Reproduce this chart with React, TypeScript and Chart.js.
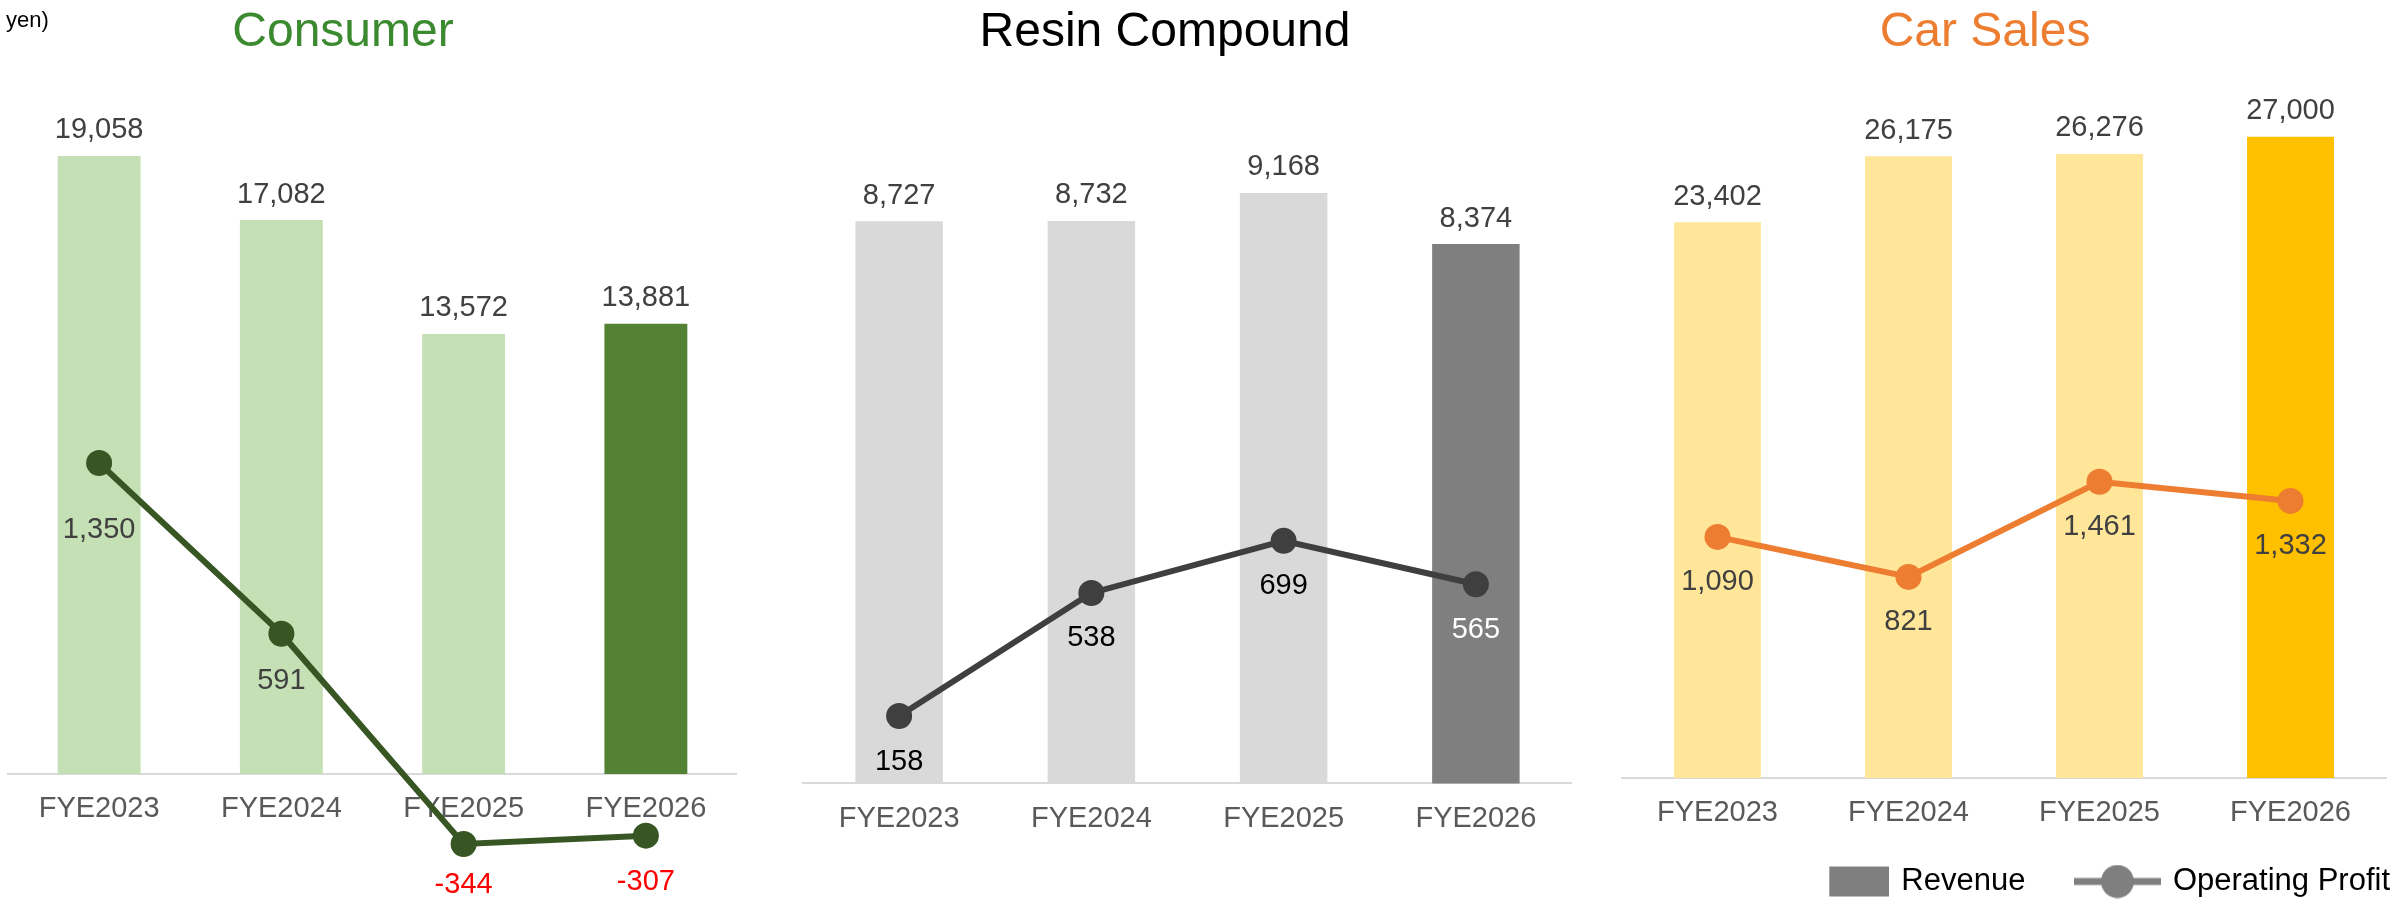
import React, { useEffect, useRef } from 'react';
import { Chart, registerables } from 'chart.js';

Chart.register(...registerables);

// ---------------- data ----------------
const categories = ['FYE2023', 'FYE2024', 'FYE2025', 'FYE2026'];

const consumerRevenue = [19058, 17082, 13572, 13881];
const consumerProfit = [1350, 591, -344, -307];

const resinRevenue = [8727, 8732, 9168, 8374];
const resinProfit = [158, 538, 699, 565];

const carRevenue = [23402, 26175, 26276, 27000];
const carProfit = [1090, 821, 1461, 1332];

const legendLabels = ['Revenue', 'Operating Profit'];
const unitText = 'yen)';

// ---------------- styles ----------------
const FONT = '"Liberation Sans", Arial, Helvetica, sans-serif';

type PanelCfg = {
  title: string;
  titleColor: string;
  revenue: number[];
  profit: number[];
  barColors: string[];
  lineColor: string;
  profitLabelColors: string[];
  profitLabelDy: number[];
  left: number;
  width: number;
  height: number;
  leftGutter: number;
  rightGutter: number;
  yMin: number;
  yMax: number;
  y2Min: number;
  y2Max: number;
  legend: boolean;
};

const panels: PanelCfg[] = [
  {
    title: 'Consumer',
    titleColor: '#3B8A2F',
    revenue: consumerRevenue,
    profit: consumerProfit,
    barColors: ['#C5E0B4', '#C5E0B4', '#C5E0B4', '#548235'],
    lineColor: '#375623',
    profitLabelColors: consumerProfit.map((v) => (v < 0 ? '#FF0000' : '#404040')),
    profitLabelDy: [75, 55, 49, 54],
    left: -51,
    width: 788,
    height: 899,
    leftGutter: 59,
    rightGutter: 0,
    yMin: -3854.7,
    yMax: 21968.7,
    y2Min: -588.7,
    y2Max: 3134.7,
    legend: false,
  },
  {
    title: 'Resin Compound',
    titleColor: '#000000',
    revenue: resinRevenue,
    profit: resinProfit,
    barColors: ['#D9D9D9', '#D9D9D9', '#D9D9D9', '#7F7F7F'],
    lineColor: '#3F3F3F',
    profitLabelColors: ['#000000', '#000000', '#000000', '#FFFFFF'],
    profitLabelDy: [54, 53, 53, 54],
    left: 758,
    width: 814,
    height: 899,
    leftGutter: 45,
    rightGutter: 0,
    yMin: -1792.9,
    yMax: 11206,
    y2Min: -407.5,
    y2Max: 2179.5,
    legend: false,
  },
  {
    title: 'Car Sales',
    titleColor: '#ED7D31',
    revenue: carRevenue,
    profit: carProfit,
    barColors: ['#FFE699', '#FFE699', '#FFE699', '#FFC000'],
    lineColor: '#ED7D31',
    profitLabelColors: ['#404040', '#404040', '#404040', '#404040'],
    profitLabelDy: [53, 53, 53, 53],
    left: 1528,
    width: 914,
    height: 907,
    leftGutter: 94,
    rightGutter: 56,
    yMin: -1515.8,
    yMax: 30164,
    y2Min: -773.4,
    y2Max: 4286.5,
    legend: true,
  },
];

const fmt = (v: number) => v.toLocaleString('en-US');

function makeIcon(kind: 'bar' | 'line'): HTMLCanvasElement {
  const c = document.createElement('canvas');
  c.width = 87;
  c.height = 34;
  const g = c.getContext('2d')!;
  g.fillStyle = '#7F7F7F';
  g.strokeStyle = '#7F7F7F';
  if (kind === 'bar') {
    g.fillRect(27, 2, 60, 30);
  } else {
    g.lineWidth = 7;
    g.beginPath();
    g.moveTo(0, 17);
    g.lineTo(87, 17);
    g.stroke();
    g.beginPath();
    g.arc(43.5, 17, 16.5, 0, Math.PI * 2);
    g.fill();
  }
  return c;
}

function buildChart(canvas: HTMLCanvasElement, p: PanelCfg) {
  const labelPlugin = {
    id: 'valueLabels',
    afterDatasetsDraw(chart: any) {
      const ctx = chart.ctx as CanvasRenderingContext2D;
      ctx.save();
      ctx.font = `29px ${FONT}`;
      ctx.textAlign = 'center';
      ctx.textBaseline = 'alphabetic';
      const barMeta = chart.getDatasetMeta(0);
      barMeta.data.forEach((el: any, i: number) => {
        ctx.fillStyle = '#404040';
        ctx.fillText(fmt(p.revenue[i]), el.x, el.y - 17.5);
      });
      const lineMeta = chart.getDatasetMeta(1);
      lineMeta.data.forEach((el: any, i: number) => {
        ctx.fillStyle = p.profitLabelColors[i];
        ctx.fillText(fmt(p.profit[i]), el.x, el.y + p.profitLabelDy[i]);
      });
      ctx.restore();
    },
  };

  const legendOpts = p.legend
    ? {
        display: true,
        position: 'bottom' as const,
        align: 'end' as const,
        labels: {
          usePointStyle: true,
          pointStyleWidth: 80,
          boxHeight: 31,
          padding: 52,
          color: '#000000',
          font: { family: FONT, size: 31 },
          generateLabels: () => [
            {
              text: legendLabels[0],
              pointStyle: makeIcon('bar'),
              fillStyle: '#7F7F7F',
              strokeStyle: '#7F7F7F',
              lineWidth: 0,
              hidden: false,
              datasetIndex: 0,
              fontColor: '#000000',
            },
            {
              text: legendLabels[1],
              pointStyle: makeIcon('line'),
              fillStyle: '#7F7F7F',
              strokeStyle: '#7F7F7F',
              lineWidth: 0,
              hidden: false,
              datasetIndex: 1,
              fontColor: '#000000',
            },
          ],
        },
      }
    : { display: false };

  return new Chart(canvas, {
    type: 'bar',
    data: {
      labels: categories,
      datasets: [
        {
          type: 'bar',
          label: legendLabels[0],
          data: p.revenue,
          backgroundColor: p.barColors,
          borderWidth: 0,
          yAxisID: 'y',
          order: 2,
          barPercentage: 0.455,
          categoryPercentage: 1,
        },
        {
          type: 'line',
          label: legendLabels[1],
          data: p.profit,
          borderColor: p.lineColor,
          backgroundColor: p.lineColor,
          borderWidth: 6,
          pointRadius: 13,
          pointHoverRadius: 13,
          pointBackgroundColor: p.lineColor,
          pointBorderWidth: 0,
          yAxisID: 'y2',
          order: 1,
          clip: false,
          tension: 0,
        } as any,
      ],
    },
    options: {
      responsive: false,
      animation: false,
      events: [],
      layout: { padding: 0, autoPadding: false },
      plugins: {
        title: {
          display: true,
          text: p.title,
          color: p.titleColor,
          font: { family: FONT, size: 48, weight: 'normal', lineHeight: 1.2 },
          padding: { top: 4, bottom: 0 },
        },
        legend: legendOpts as any,
        tooltip: { enabled: false },
      },
      scales: {
        x: {
          type: 'category',
          position: { y: 0 },
          offset: true,
          grid: { display: false, drawTicks: false },
          border: { display: true, color: '#D9D9D9', width: 2 },
          ticks: {
            color: '#595959',
            font: { family: FONT, size: 29 },
            padding: 18,
            maxRotation: 0,
            autoSkip: false,
          },
        },
        y: {
          position: 'left',
          min: p.yMin,
          max: p.yMax,
          display: true,
          grid: { display: false },
          border: { display: false },
          ticks: { display: false },
          afterFit: (s: any) => {
            s.width = p.leftGutter;
          },
        },
        y2: {
          position: 'right',
          min: p.y2Min,
          max: p.y2Max,
          display: p.rightGutter > 0,
          grid: { display: false },
          border: { display: false },
          ticks: { display: false },
          afterFit: (s: any) => {
            s.width = p.rightGutter;
          },
        },
      },
    } as any,
    plugins: [labelPlugin],
  });
}

function ChartPanel({ p }: { p: PanelCfg }) {
  const ref = useRef<HTMLCanvasElement>(null);
  useEffect(() => {
    if (!ref.current) return;
    const chart = buildChart(ref.current, p);
    return () => chart.destroy();
  }, [p]);
  return (
    <canvas
      ref={ref}
      width={p.width}
      height={p.height}
      style={{ position: 'absolute', left: p.left, top: 0, width: p.width, height: p.height, display: 'block' }}
    />
  );
}

export default function App() {
  return (
    <div
      style={{
        position: 'absolute',
        left: 0,
        top: 0,
        width: 2397,
        height: 899,
        overflow: 'hidden',
        background: '#ffffff',
      }}
    >
      {panels.map((p) => (
        <ChartPanel key={p.title} p={p} />
      ))}
      <div
        style={{
          position: 'absolute',
          left: 6,
          top: 9,
          fontFamily: FONT,
          fontSize: 22,
          lineHeight: '22px',
          color: '#000000',
          whiteSpace: 'nowrap',
        }}
      >
        {unitText}
      </div>
    </div>
  );
}
